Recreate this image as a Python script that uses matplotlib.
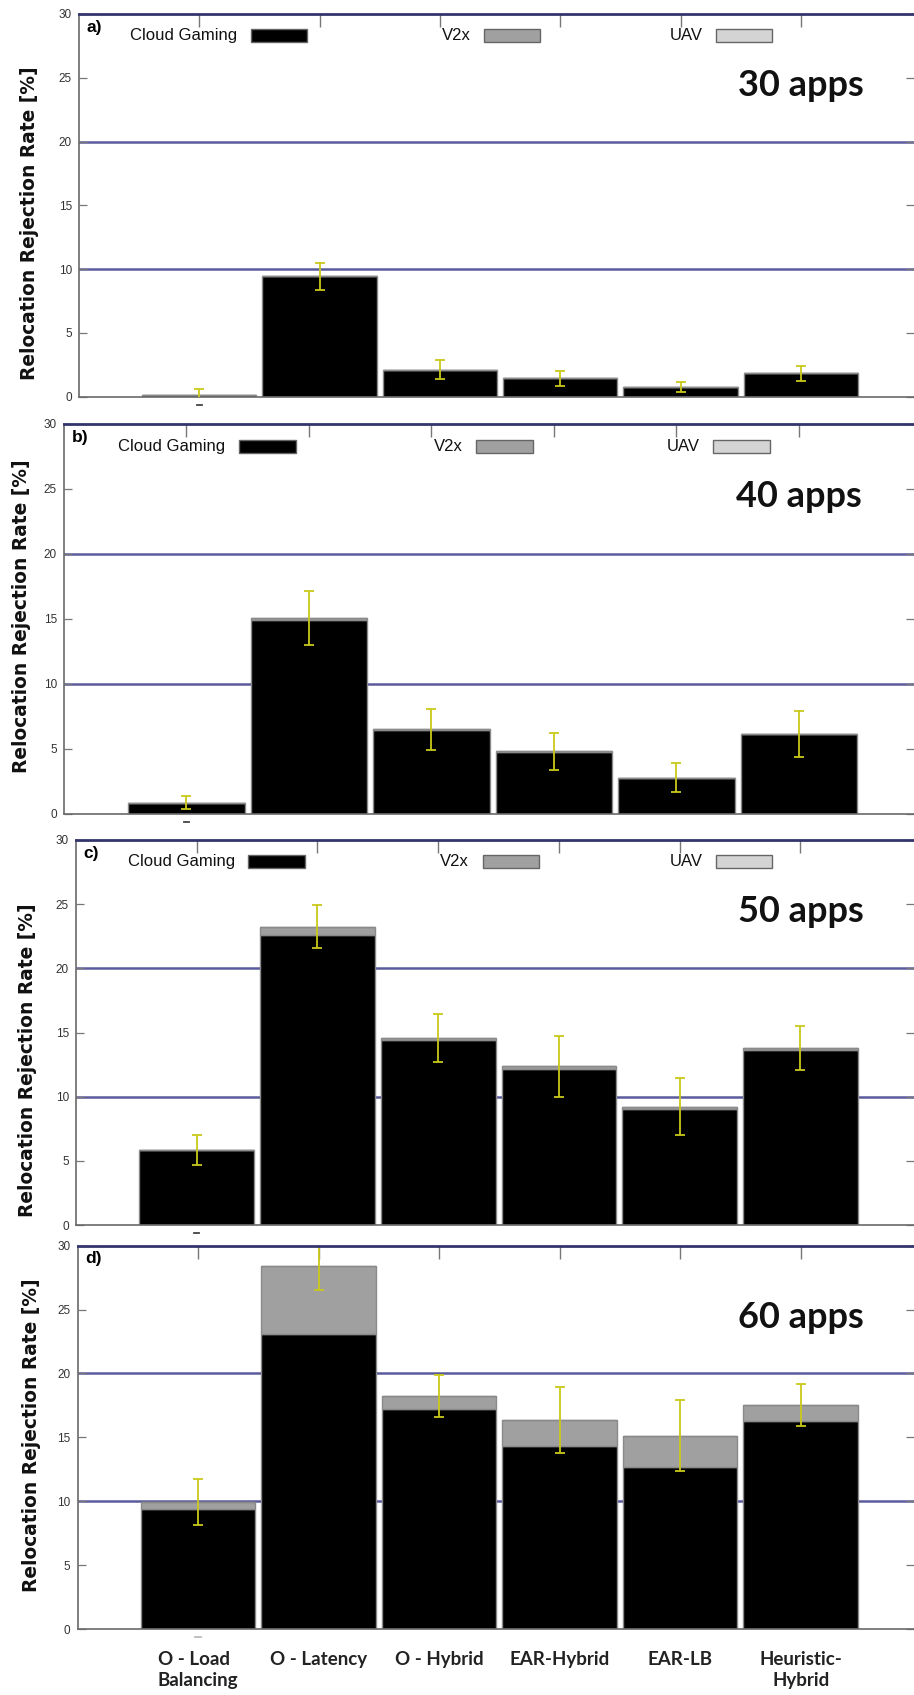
import matplotlib
matplotlib.use("Agg")
import matplotlib.pyplot as plt
import matplotlib.transforms as mtransforms
from matplotlib.patches import Rectangle
import numpy as np

# ---------------- data ----------------
categories = ["O - Load\nBalancing", "O - Latency", "O - Hybrid",
              "EAR-Hybrid", "EAR-LB", "Heuristic-\nHybrid"]
panel_tags = ["a)", "b)", "c)", "d)"]
panel_titles = ["30 apps", "40 apps", "50 apps", "60 apps"]
series_names = ["Cloud Gaming", "V2x", "UAV"]

cloud_gaming_30 = [0.13, 9.43, 2.12, 1.44, 0.78, 1.83]
v2x_30 = [0.0, 0.0, 0.0, 0.0, 0.0, 0.0]
uav_30 = [0.0, 0.0, 0.0, 0.0, 0.0, 0.0]
err_30 = [0.48, 1.05, 0.77, 0.59, 0.40, 0.58]

cloud_gaming_40 = [0.85, 14.90, 6.45, 4.78, 2.75, 6.10]
v2x_40 = [0.0, 0.20, 0.04, 0.02, 0.02, 0.03]
uav_40 = [0.0, 0.0, 0.0, 0.0, 0.0, 0.0]
err_40 = [0.48, 2.08, 1.56, 1.44, 1.12, 1.76]

cloud_gaming_50 = [5.84, 22.57, 14.42, 12.18, 9.01, 13.61]
v2x_50 = [0.0, 0.68, 0.18, 0.18, 0.21, 0.18]
uav_50 = [0.0, 0.0, 0.0, 0.0, 0.0, 0.0]
err_50 = [1.17, 1.69, 1.88, 2.38, 2.23, 1.74]

cloud_gaming_60 = [9.37, 23.09, 17.22, 14.32, 12.71, 16.31]
v2x_60 = [0.57, 5.32, 1.04, 2.04, 2.40, 1.20]
uav_60 = [0.0, 0.0, 0.0, 0.0, 0.0, 0.0]
err_60 = [1.77, 1.88, 1.65, 2.61, 2.78, 1.66]

panels = [
    (cloud_gaming_30, v2x_30, uav_30, err_30),
    (cloud_gaming_40, v2x_40, uav_40, err_40),
    (cloud_gaming_50, v2x_50, uav_50, err_50),
    (cloud_gaming_60, v2x_60, uav_60, err_60),
]
show_legend = [True, True, True, False]

yticks = [0, 5, 10, 15, 20, 25, 30]

# ---------------- style ----------------
W, H = 914, 1695
DPI = 100
fig = plt.figure(figsize=(W / DPI, H / DPI), dpi=DPI)
fig.patch.set_facecolor("white")

colors = ["#000000", "#a0a0a0", "#d4d4d4"]
edge_col = "#8a8a8a"
grid_col = "#5a5a9c"
top_col = "#34346e"
err_col = "#c9c91a"

# panel boxes in pixels: left, top, bottom
boxes = [(79, 14, 396.7), (64, 424, 813.7), (76, 840, 1225), (77.5, 1245.7, 1629)]
ylabel_pos = [(30, 223), (22, 616), (28, 1060), (32, 1435)]

x = np.arange(len(categories))
for i, ((cg, v2, ua, er), (lp, tp, bp)) in enumerate(zip(panels, boxes)):
    ax = fig.add_axes([lp / W, 1 - bp / H, (W - lp) / W, (bp - tp) / H])
    ax.set_xlim(-1.0, 5.94)
    ax.set_ylim(0, 30)

    for yv in (10, 20):
        ax.axhline(yv, color=grid_col, lw=1.8, zorder=1)

    cg = np.array(cg); v2 = np.array(v2); ua = np.array(ua); er = np.array(er)
    ax.bar(x, cg, width=0.95, color=colors[0], edgecolor=edge_col, lw=1.0, zorder=2)
    ax.bar(x, v2, width=0.95, bottom=cg, color=colors[1], edgecolor=edge_col, lw=1.0, zorder=2)
    ax.bar(x, ua, width=0.95, bottom=cg + v2, color=colors[2], edgecolor=edge_col, lw=1.0, zorder=2)
    total = cg + v2 + ua
    ax.errorbar(x, total, yerr=er, fmt="none", ecolor=err_col, elinewidth=1.3,
                capsize=3.6, capthick=1.3, zorder=3)

    # spines
    ax.spines["right"].set_visible(False)
    ax.spines["top"].set_color(top_col)
    ax.spines["top"].set_linewidth(2.0)
    ax.spines["top"].set_zorder(4)
    for s in ("left", "bottom"):
        ax.spines[s].set_color("#6a6a6a")
        ax.spines[s].set_linewidth(1.2)

    ax.set_yticks(yticks)
    ax.set_yticklabels([str(t) for t in yticks], fontsize=8.5, color="#333333",
                       family="Liberation Sans")
    ax.tick_params(axis="y", direction="in", length=6, width=0.9, color="#777777",
                   right=True, pad=5)
    ax.set_xticks(x)
    if i == 3:
        ax.set_xticklabels(categories, fontsize=13.5, fontweight="bold",
                           family="Lato", color="#222222", linespacing=1.25)
        for lab in ax.get_xticklabels()[:1]:
            lab.set_multialignment("left")
    else:
        ax.set_xticklabels([])
    ax.tick_params(axis="x", direction="in", length=9, width=1.0, color="#777777",
                   top=True, bottom=False, labelbottom=(i == 3), pad=16)

    # small dash under first bar
    tr = ax.get_xaxis_transform() + mtransforms.ScaledTranslation(0, -8 / DPI, fig.dpi_scale_trans)
    ax.plot([-0.022, 0.022], [0, 0], transform=tr, color="#444444" if i < 3 else "#bbbbbb",
            lw=1.3, clip_on=False)

    # legend
    if show_legend[i]:
        lx = [0.66, 2.60, 4.53]
        for k in range(3):
            ax.add_patch(Rectangle((lx[k] - 0.233, 28.3 - 0.5), 0.466, 1.0,
                                   facecolor=colors[k], edgecolor="#666666", lw=1.0,
                                   zorder=5))
            ax.text(lx[k] - 0.233 - 0.11, 28.3, series_names[k], ha="right", va="center",
                    fontsize=12, family="Liberation Sans", color="#111111", zorder=5)

    ax.text(0.009, 0.985, panel_tags[i], transform=ax.transAxes, ha="left", va="top",
            fontsize=12.5, fontweight="bold", family="Liberation Sans")
    ax.text(5, 24.4, panel_titles[i], ha="center", va="center", fontsize=26,
            fontweight="bold", family="Lato", color="#111111")

    lxp, lyp = ylabel_pos[i]
    fig.text(lxp / W, 1 - lyp / H, "Relocation Rejection Rate [%]", rotation=90,
             ha="center", va="center", fontsize=13.4, fontweight="bold",
             family="DejaVu Sans", color="#111111")

fig.savefig("out.png", dpi=DPI, facecolor="white")
